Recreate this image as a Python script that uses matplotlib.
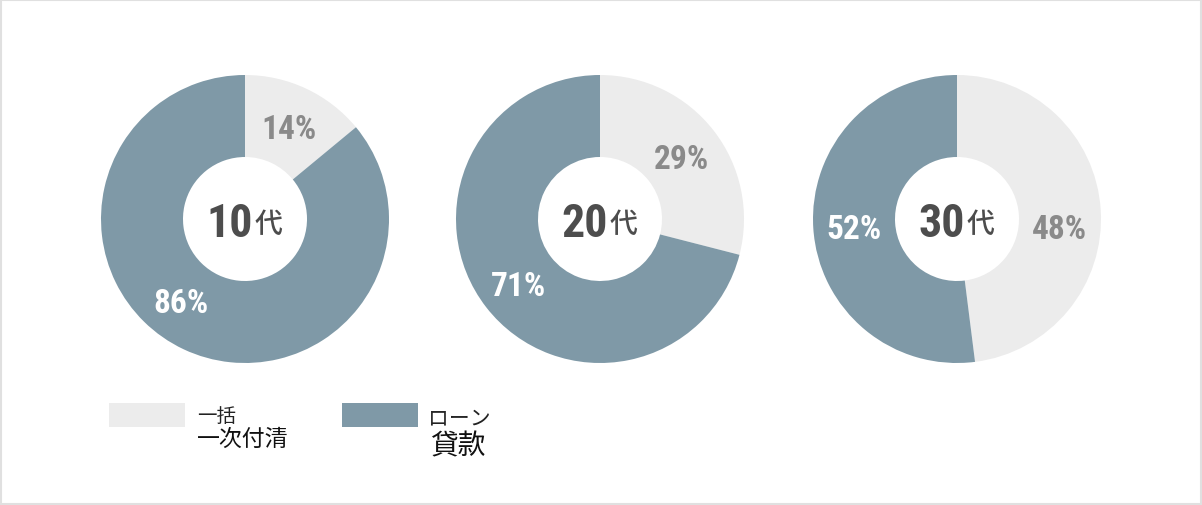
import matplotlib.pyplot as plt
from matplotlib.patches import Rectangle
import numpy as np

W, H = 1202, 506

# データ
ages = ['10', '20', '30']
lump_sum = [14, 29, 48]   # 一括 / 一次付清
loan = [86, 71, 52]       # ローン / 貸款
legend_jp = ['一括', 'ローン']
legend_zh = ['一次付清', '貸款']

colors = ['#ececec', '#7f99a7']
pct_colors = ['#8a8a8a', 'white']
dark = '#4d4d4d'

plt.rcParams['font.family'] = ['Roboto', 'Noto Sans CJK JP', 'DejaVu Sans']
cjk = ['Noto Sans CJK JP', 'DejaVu Sans']
num_font = ['Roboto Condensed', 'Roboto']

fig = plt.figure(figsize=(W / 100, H / 100), dpi=100)
ax = fig.add_axes([0, 0, 1, 1])

centers_x = [245, 600, 957]
cy = 220
r_out, r_in = 144, 62
r_lab = (r_out + r_in) / 2
# ラベル位置の微調整（度）
nudge = [[0, 13], [0, 0], [7, 0]]

for i, age in enumerate(ages):
    cx = centers_x[i]
    vals = [lump_sum[i], loan[i]]
    ax.pie(vals, colors=colors, startangle=90, counterclock=False,
           radius=r_out, center=(cx, H - cy),
           wedgeprops=dict(width=r_out - r_in, linewidth=0))
    start = 0
    for j, v in enumerate(vals):
        ang = np.radians(start + v * 3.6 / 2 + nudge[i][j])
        start += v * 3.6
        ax.text(cx + r_lab * np.sin(ang), H - cy + r_lab * np.cos(ang), f'{v}%',
                family=num_font, ha='center', va='center_baseline', fontsize=24,
                fontweight='bold', color=pct_colors[j])
    # 中央ラベル
    ax.text(cx + 8, H - 237, age, family=num_font, ha='right', va='baseline',
            fontsize=33, fontweight='bold', color=dark)
    ax.text(cx + 10, H - 233, '代', family=cjk, ha='left', va='baseline',
            fontsize=20, fontweight='medium', color=dark)

# 凡例
leg_x = [109, 342]
for k in range(2):
    ax.add_patch(Rectangle((leg_x[k], H - 428), 76, 24, color=colors[k], lw=0))
ax.text(197, H - 422, legend_jp[0], family=cjk, fontsize=14, color='#222222',
        ha='left', va='baseline')
ax.text(197, H - 446, legend_zh[0], family=cjk, fontsize=16.5, color='#111111',
        ha='left', va='baseline')
ax.text(428, H - 424, legend_jp[1], family=cjk, fontsize=15, color='#222222',
        ha='left', va='baseline')
ax.text(430, H - 454, legend_zh[1], family=cjk, fontsize=20, color='#111111',
        ha='left', va='baseline')

# 外枠
ax.add_patch(Rectangle((1, 1), W - 2, H - 2, fill=False, edgecolor='#e0e0e0',
                       linewidth=1.5, clip_on=False))

ax.set_xlim(0, W)
ax.set_ylim(0, H)
ax.set_aspect('auto')
ax.axis('off')

fig.savefig('out.png', dpi=100, facecolor='white')
